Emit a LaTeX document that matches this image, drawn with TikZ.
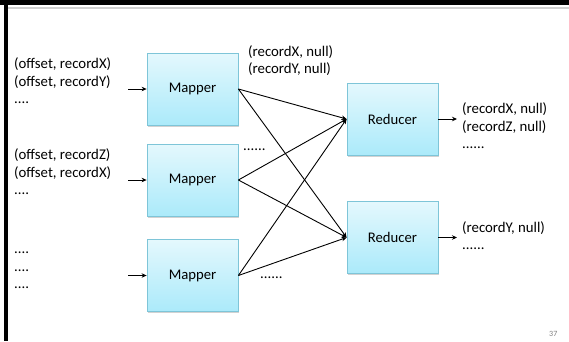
\documentclass[tikz,border=0pt]{standalone}
\usepackage{fontspec}
\setmainfont{Carlito}
\usetikzlibrary{arrows.meta,shadows}
\definecolor{boxtop}{HTML}{E4F8FD}
\definecolor{boxbot}{HTML}{ABEAFA}
\definecolor{boxline}{HTML}{7EC5D8}
\definecolor{rulegray}{HTML}{D0D0D0}
\tikzset{
  procbox/.style={rectangle, draw=boxline, line width=0.8pt, top color=boxtop, bottom color=boxbot,
    minimum width=91pt, minimum height=72pt, inner sep=0pt,
    drop shadow={shadow xshift=1.2pt, shadow yshift=-1.5pt, opacity=0.35},
    font=\fontsize{14.7}{17}\selectfont},
  lbl/.style={anchor=base west, align=left, inner sep=0pt, font=\fontsize{14.8}{17.3}\selectfont},
  conn/.style={line width=0.9pt, -{Stealth[length=5pt,width=4.5pt]}},
}
\begin{document}
\begin{tikzpicture}[x=1pt,y=-1pt]
\useasboundingbox (0,0) rectangle (569,341);
\fill[white] (0,0) rectangle (569,341);
% frame
\fill[black] (0,0) rectangle (569,4.5);
\fill[black] (4,0) rectangle (7.5,341);
\fill[rulegray] (7.5,7) rectangle (569,8.5);
% boxes
\node[procbox] (m1) at (192.5,89) {Mapper};
\node[procbox] (m2) at (192.5,180) {Mapper};
\node[procbox] (m3) at (192.5,275.5) {Mapper};
\node[procbox] (r1) at (392.5,119) {Reducer};
\node[procbox] (r2) at (392.5,237.5) {Reducer};
% input arrows
\coordinate (i1) at (128,89);
\coordinate (i2) at (128,180);
\coordinate (i3) at (128,275.5);
\draw[conn] (i1) -- (m1.west);
\draw[conn] (i2) -- (m2.west);
\draw[conn] (i3) -- (m3.west);
% shuffle
\foreach \m in {m1,m2,m3}{
  \draw[conn] (\m.east) -- (r1.west);
  \draw[conn] (\m.east) -- (r2.west);
}
% output arrows
\coordinate (o1) at (457,119);
\coordinate (o2) at (457,237.5);
\draw[conn] (r1.east) -- (o1);
\draw[conn] (r2.east) -- (o2);
% texts (anchor = baseline of last line)
\node[lbl] (t1) at (14,103.5) {(offset, recordX)\\(offset, recordY)\\....};
\node[lbl] (t2) at (14,194.5) {(offset, recordZ)\\(offset, recordX)\\....};
\node[lbl] (t3) at (14,288.5) {....\\....\\....};
\node[lbl] (t4) at (248,73.5) {(recordX, null)\\(recordY, null)};
\node[lbl] (t5) at (243,150) {......};
\node[lbl] (t6) at (260,278) {......};
\node[lbl] (t7) at (462,148.5) {(recordX, null)\\(recordZ, null)\\......};
\node[lbl] (t8) at (462,249.5) {(recordY, null)\\......};
\node[anchor=base west, inner sep=0pt, text=gray, font=\fontsize{8}{9}\selectfont] (pg) at (549,336) {37};
\end{tikzpicture}
\end{document}
